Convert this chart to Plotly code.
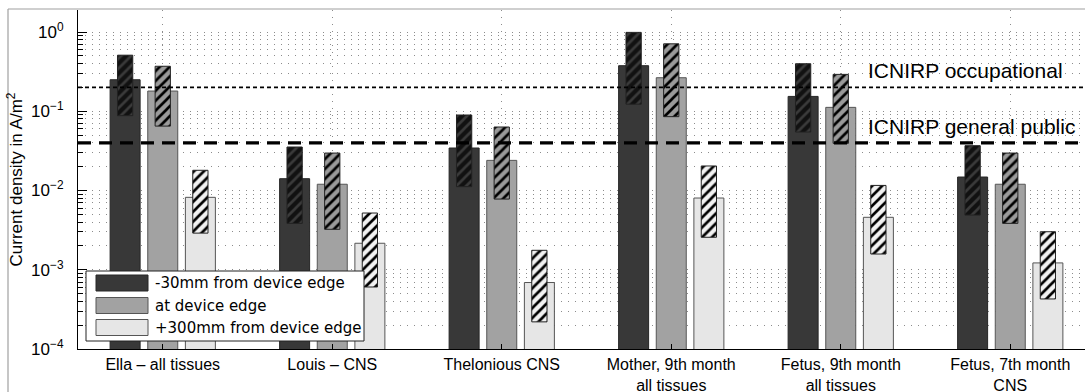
import numpy as np
import plotly.graph_objects as go

# Exposure scenarios (x categories)
categories = [
    "Ella – all tissues",
    "Louis – CNS",
    "Thelonious CNS",
    "Mother, 9th month<br>all tissues",
    "Fetus, 9th month<br>all tissues",
    "Fetus, 7th month<br>CNS",
]

series_names = ["-30mm from device edge", "at device edge", "+300mm from device edge"]

# Mean current density (A/m^2) per distance
near_mean = [0.25, 0.0141, 0.0344, 0.376, 0.154, 0.0148]
edge_mean = [0.18, 0.012, 0.024, 0.265, 0.112, 0.012]
far_mean = [0.0082, 0.00216, 0.00069, 0.00804, 0.00459, 0.00122]

# Spread (low / high) per distance, drawn as hatched range bars
near_low = [0.088, 0.00385, 0.0112, 0.123, 0.0547, 0.0049]
near_high = [0.51, 0.0354, 0.0897, 0.99, 0.398, 0.0368]
edge_low = [0.065, 0.00324, 0.0078, 0.0855, 0.0394, 0.00385]
edge_high = [0.37, 0.0297, 0.0633, 0.71, 0.292, 0.0297]
far_low = [0.0029, 0.000606, 0.00022, 0.00257, 0.00158, 0.000428]
far_high = [0.018, 0.0052, 0.00176, 0.0204, 0.0116, 0.00302]

# Reference limits
occupational_limit = 0.2
public_limit = 0.04

ytick_vals = [1e-4, 1e-3, 1e-2, 1e-1, 1e0]
ytick_text = ["10<sup>−4</sup>", "10<sup>−3</sup>", "10<sup>−2</sup>", "10<sup>−1</sup>", "10<sup>0</sup>"]

# styling
fill_colors = ["#383838", "#a2a2a2", "#e6e6e6"]
hatch_fill = ["#111111", "#9a9a9a", "#f2f2f2"]
hatch_line = ["#3a3a3a", "#000000", "#000000"]
outline = ["#262626", "#555555", "#555555"]
offsets = [-0.222, 0.0, 0.222]
bar_w = 0.177
hatch_w = 0.09
grid_dash = "1px,6px"

W, H = 1085, 392
L, R, T, B = 78, 0, 10, 43
plot_w = W - L - R
plot_h = H - T - B


def px_x(p):
    return (p - L) / plot_w


def px_y(p):
    return (H - B - p) / plot_h


fig = go.Figure()
group_x = np.arange(1, len(categories) + 1)

means = [near_mean, edge_mean, far_mean]
lows = [near_low, edge_low, far_low]
highs = [near_high, edge_high, far_high]

for k in range(3):
    xs = group_x + offsets[k]
    fig.add_trace(go.Bar(
        x=xs, y=means[k], width=bar_w, name=series_names[k],
        marker=dict(color=fill_colors[k], line=dict(color=outline[k], width=1)),
        showlegend=False, hoverinfo="skip",
    ))
for k in range(3):
    xs = group_x + offsets[k]
    lo = np.array(lows[k])
    hi = np.array(highs[k])
    fig.add_trace(go.Bar(
        x=xs, y=hi - lo, base=lo, width=hatch_w,
        marker=dict(
            color=hatch_fill[k],
            line=dict(color="#222222", width=1),
            pattern=dict(shape="/", fgcolor=hatch_line[k], bgcolor=hatch_fill[k],
                         size=7, solidity=0.38, fillmode="replace"),
        ),
        showlegend=False, hoverinfo="skip",
    ))

# limit lines
x_lo, x_hi = 0.5, 0.5 + plot_w / 169.5
fig.add_trace(go.Scatter(
    x=[x_lo, x_hi], y=[occupational_limit] * 2, mode="lines",
    line=dict(color="black", width=1.6, dash="4px,3px"),
    showlegend=False, hoverinfo="skip",
))
fig.add_trace(go.Scatter(
    x=[x_lo, x_hi], y=[public_limit] * 2, mode="lines",
    line=dict(color="black", width=3.2, dash="13px,8px"),
    showlegend=False, hoverinfo="skip",
))

annotations = [
    dict(x=px_x(866), y=np.log10(occupational_limit), xref="paper", yref="y",
         text="ICNIRP occupational", showarrow=False, xanchor="left", yanchor="middle",
         yshift=17, font=dict(family="Liberation Sans", size=21, color="black")),
    dict(x=px_x(866), y=np.log10(public_limit), xref="paper", yref="y",
         text="ICNIRP general public", showarrow=False, xanchor="left", yanchor="middle",
         yshift=16, font=dict(family="Liberation Sans", size=21, color="black")),
]

shapes = []
# figure frame
shapes.append(dict(type="line", xref="paper", yref="paper", x0=px_x(8), x1=px_x(1086),
                   y0=px_y(9), y1=px_y(9), line=dict(color="#a0a0a0", width=1.2), layer="above"))
shapes.append(dict(type="line", xref="paper", yref="paper", x0=px_x(8), x1=px_x(8),
                   y0=px_y(9), y1=px_y(393), line=dict(color="#a0a0a0", width=1.2), layer="above"))

# legend
shapes.append(dict(type="rect", xref="paper", yref="paper", x0=px_x(86), x1=px_x(364),
                   y0=px_y(341), y1=px_y(271), fillcolor="white",
                   line=dict(color="#222222", width=1), layer="above"))
row_y = [283, 305.5, 327.5]
for k in range(3):
    shapes.append(dict(type="rect", xref="paper", yref="paper", x0=px_x(96), x1=px_x(148),
                       y0=px_y(row_y[k] + 8), y1=px_y(row_y[k] - 8), fillcolor=fill_colors[k],
                       line=dict(color=outline[k], width=1), layer="above"))
    annotations.append(dict(x=px_x(153), y=px_y(row_y[k]), xref="paper", yref="paper",
                            text=series_names[k], showarrow=False, xanchor="left",
                            yanchor="middle",
                            font=dict(family="DejaVu Sans", size=15, color="black")))

fig.update_layout(
    width=W, height=H,
    margin=dict(l=L, r=R, t=T, b=B, pad=0, autoexpand=False),
    plot_bgcolor="white", paper_bgcolor="white",
    barmode="overlay",
    showlegend=False,
    shapes=shapes,
    annotations=annotations,
    font=dict(family="Liberation Sans", size=17, color="black"),
)

fig.update_xaxes(
    automargin=False,
    range=[x_lo, x_hi],
    tickvals=group_x, ticktext=categories,
    ticks="inside", ticklen=5, tickcolor="black",
    showline=True, linecolor="black", linewidth=1,
    showgrid=True, gridcolor="#8c8c8c", griddash=grid_dash, gridwidth=1,
    zeroline=False,
    tickfont=dict(family="Liberation Sans", size=16, color="black"),
    ticklabelstandoff=1,
)

fig.update_yaxes(
    automargin=False,
    type="log",
    range=[-4, 0.278],
    tickvals=ytick_vals, ticktext=ytick_text,
    ticks="inside", ticklen=9, tickcolor="black",
    showline=True, linecolor="black", linewidth=1,
    showgrid=True, gridcolor="#8c8c8c", griddash=grid_dash, gridwidth=1,
    zeroline=False,
    minor=dict(ticks="inside", ticklen=5, tickcolor="black", dtick="D1",
               showgrid=True, gridcolor="#8c8c8c", griddash=grid_dash, gridwidth=1),
    tickfont=dict(family="Liberation Sans", size=17, color="black"),
    ticklabelstandoff=10,
    title=dict(text="Current density in A/m<sup>2</sup>", standoff=4,
               font=dict(family="Liberation Sans", size=17, color="black")),
)

fig.write_html("out.html")
